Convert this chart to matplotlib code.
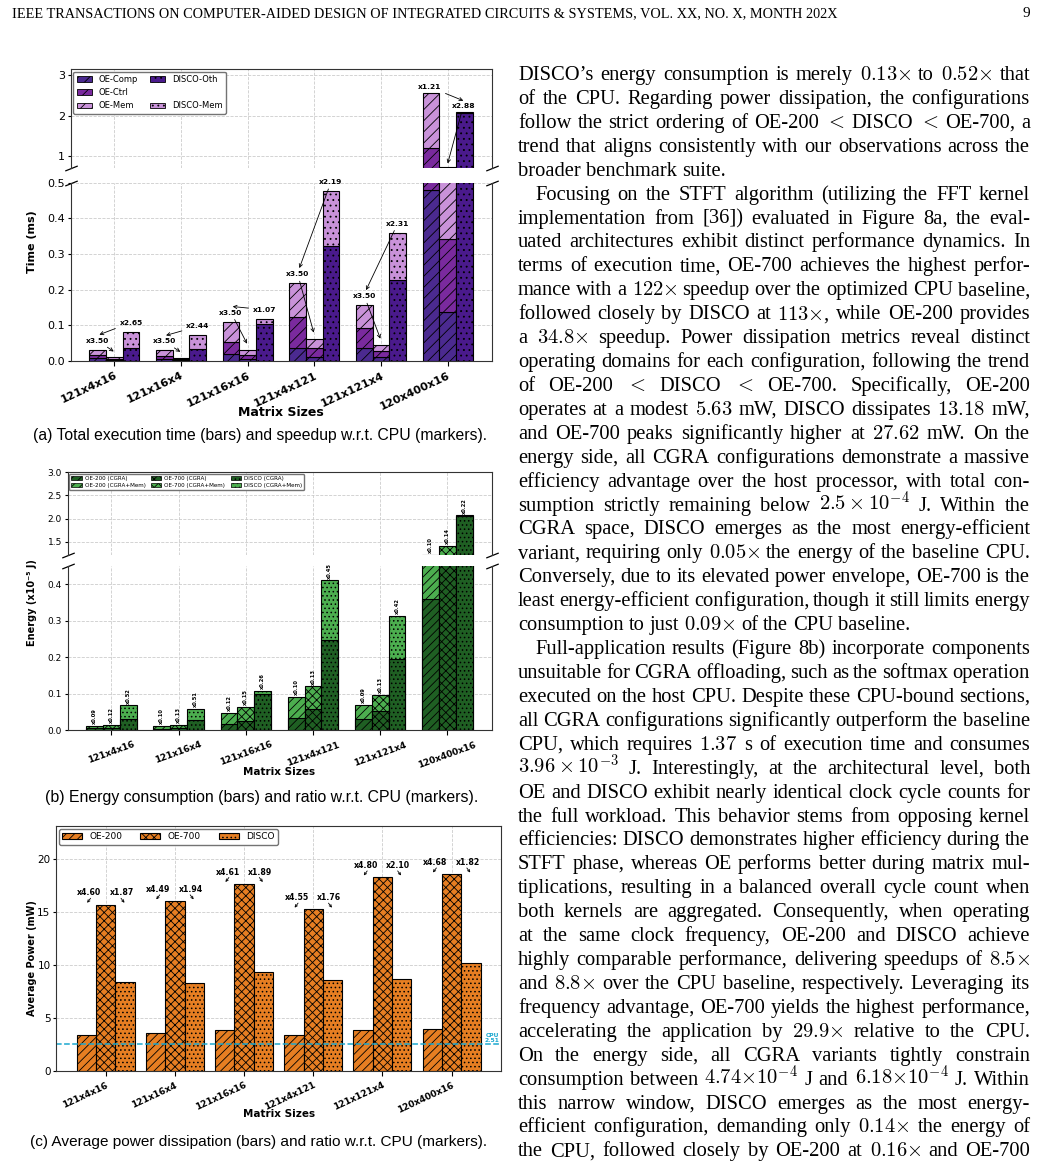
import matplotlib
matplotlib.use("Agg")
import matplotlib.pyplot as plt
import matplotlib.patches as mpatches
import numpy as np

W, H = 1043, 1161

sizes = ["121x4x16", "121x16x4", "121x16x16", "121x4x121", "121x121x4", "120x400x16"]

# (a) execution time (ms), stacked segments
oe200_comp = [0.007, 0.005, 0.019, 0.035, 0.035, 0.48]
oe200_ctrl = [0.008, 0.007, 0.033, 0.087, 0.056, 0.73]
oe200_mem = [0.016, 0.017, 0.058, 0.096, 0.065, 1.35]
oe700_comp = [0.002, 0.0015, 0.0055, 0.010, 0.010, 0.137]
oe700_ctrl = [0.002, 0.002, 0.0095, 0.025, 0.016, 0.206]
oe700_mem = [0.005, 0.0045, 0.016, 0.027, 0.019, 0.377]
disco_oth = [0.037, 0.033, 0.102, 0.323, 0.228, 2.07]
disco_mem = [0.045, 0.038, 0.016, 0.154, 0.132, 0.03]
spd_left = ["x3.50", "x3.50", "x3.50", "x3.50", "x3.50", "x1.21"]
spd_right = ["x2.65", "x2.44", "x1.07", "x2.19", "x2.31", "x2.88"]

# (b) energy (x1e-5 J)
e200_cgra = [0.005, 0.004, 0.016, 0.034, 0.030, 0.36]
e200_tot = [0.012, 0.012, 0.048, 0.092, 0.070, 1.23]
e700_cgra = [0.007, 0.007, 0.026, 0.057, 0.052, 0.70]
e700_tot = [0.015, 0.015, 0.064, 0.120, 0.097, 1.42]
edisco_cgra = [0.032, 0.028, 0.100, 0.247, 0.194, 2.05]
edisco_tot = [0.068, 0.059, 0.109, 0.411, 0.314, 2.07]
ratio200 = ["x0.09", "x0.10", "x0.12", "x0.10", "x0.09", "x0.10"]
ratio700 = ["x0.12", "x0.13", "x0.15", "x0.13", "x0.13", "x0.14"]
ratio_disco = ["x0.52", "x0.51", "x0.26", "x0.45", "x0.42", "x0.22"]

# (c) average power (mW)
p200 = [3.40, 3.56, 3.83, 3.345, 3.80, 3.96]
p700 = [15.68, 16.0, 17.64, 15.22, 18.26, 18.54]
pdisco = [8.33, 8.24, 9.28, 8.58, 8.65, 10.13]
cpu_power = 2.51
pr_left = ["x4.60", "x4.49", "x4.61", "x4.55", "x4.80", "x4.68"]
pr_right = ["x1.87", "x1.94", "x1.89", "x1.76", "x2.10", "x1.82"]

plt.rcParams["hatch.linewidth"] = 0.6
plt.rcParams["axes.edgecolor"] = "#333333"

fig = plt.figure(figsize=(W / 100, H / 100), dpi=100)
rend = fig.canvas.get_renderer()


def rect(l, t, r, b):
    return [l / W, 1 - b / H, (r - l) / W, (b - t) / H]


def px_dy(ax, px):
    y0, y1 = ax.get_ylim()
    return px * (y1 - y0) / ax.bbox.height


def break_marks(ax, where):
    y = 0 if where == "bottom" else 1
    ax.plot([0, 1], [y, y], transform=ax.transAxes, marker=[(-1, -0.4), (1, 0.4)],
            markersize=9, linestyle="none", color="k", mec="k", mew=0.9, clip_on=False)


def style(ax):
    ax.grid(True, linestyle="--", color="#cccccc", linewidth=0.6)
    ax.set_axisbelow(True)
    ax.tick_params(axis="y", length=2.5, pad=1.5)


x = np.arange(len(sizes))
arrow = dict(arrowstyle="->", lw=0.6, color="k", shrinkA=1, shrinkB=0, mutation_scale=6)

# ---------------- (a) time ----------------
c_comp, c_ctrl, c_mem, c_oth = "#4b2a90", "#7a2a9e", "#c992d9", "#4a1a8c"
bw = 0.25
a_top = fig.add_axes(rect(70.7, 69.3, 491.7, 168.3))
a_bot = fig.add_axes(rect(70.7, 182.7, 491.7, 360.7))
for ax in (a_top, a_bot):
    style(ax)
    bot = np.zeros(6)
    for seg, col in ((oe200_comp, c_comp), (oe200_ctrl, c_ctrl), (oe200_mem, c_mem)):
        ax.bar(x - bw, seg, bw, bottom=bot, color=col, hatch="///", edgecolor="k", lw=0.8)
        bot = bot + np.array(seg)
    bot = np.zeros(6)
    for seg, col in ((oe700_comp, c_comp), (oe700_ctrl, c_ctrl), (oe700_mem, c_mem)):
        ax.bar(x, seg, bw, bottom=bot, color=col, hatch="///", edgecolor="k", lw=0.8)
        bot = bot + np.array(seg)
    ax.bar(x + bw, disco_oth, bw, color=c_oth, hatch="...", edgecolor="k", lw=0.8)
    ax.bar(x + bw, disco_mem, bw, bottom=disco_oth, color=c_mem, hatch="...", edgecolor="k", lw=0.8)
    ax.set_xlim(-0.655, 5.66)
    ax.set_xticks(x)
a_top.set_ylim(0.7, 3.15)
a_top.set_yticks([1, 2, 3])
a_bot.set_ylim(0, 0.5)
a_bot.set_yticks([0, 0.1, 0.2, 0.3, 0.4, 0.5])
a_bot.set_yticklabels(["0.0", "0.1", "0.2", "0.3", "0.4", "0.5"])
a_top.spines["bottom"].set_visible(False)
a_bot.spines["top"].set_visible(False)
a_top.tick_params(bottom=False, labelbottom=False, labelsize=8)
a_bot.tick_params(labelsize=8)
a_bot.set_xticklabels(sizes, rotation=25, ha="right", rotation_mode="anchor",
                      fontsize=8, fontweight="bold")
break_marks(a_top, "bottom")
break_marks(a_bot, "top")
a_top.legend(handles=[
    mpatches.Patch(facecolor=c_comp, edgecolor="k", hatch="///", lw=0.6, label="OE-Comp"),
    mpatches.Patch(facecolor=c_ctrl, edgecolor="k", hatch="///", lw=0.6, label="OE-Ctrl"),
    mpatches.Patch(facecolor=c_mem, edgecolor="k", hatch="///", lw=0.6, label="OE-Mem"),
    mpatches.Patch(facecolor=c_oth, edgecolor="k", hatch="...", lw=0.6, label="DISCO-Oth"),
    mpatches.Patch(facecolor="none", edgecolor="none", label=" "),
    mpatches.Patch(facecolor=c_mem, edgecolor="k", hatch="...", lw=0.6, label="DISCO-Mem"),
], ncol=2, loc="upper left", fontsize=6, borderaxespad=0.3, edgecolor="0.45",
    framealpha=1, handlelength=1.8, columnspacing=1.5)

top200 = np.array(oe200_comp) + oe200_ctrl + oe200_mem
top700 = np.array(oe700_comp) + oe700_ctrl + oe700_mem
topd = np.array(disco_oth) + disco_mem
kw = dict(fontsize=5.4, fontweight="bold", ha="center", va="center", annotation_clip=False)
for i in range(6):
    ax = a_bot if i < 5 else a_top
    pad = 9 if i < 5 else 6
    ly = top200[i] + px_dy(ax, pad)
    ry = topd[i] + px_dy(ax, pad)
    lx = x[i] - 0.25 if i < 5 else x[i] - 0.265
    rx = x[i] + 0.25 if i < 5 else x[i] + 0.235
    if i < 5:
        ax.annotate(spd_left[i], xy=(x[i] - 0.01, top700[i] + px_dy(ax, 6)), xytext=(lx, ly),
                    arrowprops=arrow, **kw)
        ax.annotate(spd_right[i], xy=(lx + 0.025, ly + px_dy(ax, 6)), xytext=(rx, ry),
                    arrowprops=arrow, **kw)
    else:
        ax.annotate(spd_right[i], xy=(x[i], top700[i] + px_dy(ax, 4)), xytext=(rx, ry),
                    arrowprops=arrow, **kw)
        ax.annotate(spd_left[i], xy=(rx, ry + px_dy(ax, 5)), xytext=(lx, ly),
                    arrowprops=arrow, **kw)

fig.text(32 / W, 1 - 242 / H, "Time (ms)", rotation=90, ha="center", va="center",
         fontsize=8, fontweight="bold")
fig.text(281 / W, 1 - 413 / H, "Matrix Sizes", ha="center", va="center",
         fontsize=9, fontweight="bold")

# ---------------- (b) energy ----------------
g_dark, g_light = "#1f5f23", "#4cae4f"
b_top = fig.add_axes(rect(67.5, 472, 491.7, 555))
b_bot = fig.add_axes(rect(67.5, 566, 491.7, 730.3))
groups_b = ((-bw, e200_cgra, e200_tot, "////", ratio200),
            (0, e700_cgra, e700_tot, "xxxx", ratio700),
            (bw, edisco_cgra, edisco_tot, "....", ratio_disco))
for ax in (b_top, b_bot):
    style(ax)
    for off, cg, tot, h, _ in groups_b:
        ax.bar(x + off, tot, bw, color=g_light, hatch=h, edgecolor="k", lw=0.8)
        ax.bar(x + off, cg, bw, color=g_dark, hatch=h, edgecolor="k", lw=0.8)
    ax.set_xlim(-0.655, 5.66)
    ax.set_xticks(x)
b_top.set_ylim(1.22, 3.0)
b_top.set_yticks([1.5, 2.0, 2.5, 3.0])
b_bot.set_ylim(0, 0.45)
b_bot.set_yticks([0, 0.1, 0.2, 0.3, 0.4])
b_top.set_yticklabels(["1.5", "2.0", "2.5", "3.0"])
b_bot.set_yticklabels(["0.0", "0.1", "0.2", "0.3", "0.4"])
b_top.spines["bottom"].set_visible(False)
b_bot.spines["top"].set_visible(False)
b_top.tick_params(bottom=False, labelbottom=False, labelsize=6.5)
b_bot.tick_params(labelsize=6.5)
b_bot.set_xticklabels(sizes, rotation=20, ha="center", fontsize=6.5, fontweight="bold")
break_marks(b_top, "bottom")
break_marks(b_bot, "top")
for off, cg, tot, h, labs in groups_b:
    for i in range(6):
        ax = b_bot if tot[i] < 0.45 else b_top
        ax.text(x[i] + off, tot[i] + px_dy(ax, 1.5), labs[i], rotation=90, ha="center",
                va="bottom", fontsize=3.7, fontweight="bold", clip_on=False)
b_top.legend(handles=[
    mpatches.Patch(facecolor=g_dark, edgecolor="k", hatch="////", lw=0.5, label="OE-200 (CGRA)"),
    mpatches.Patch(facecolor=g_light, edgecolor="k", hatch="////", lw=0.5, label="OE-200 (CGRA+Mem)"),
    mpatches.Patch(facecolor=g_dark, edgecolor="k", hatch="xxxx", lw=0.5, label="OE-700 (CGRA)"),
    mpatches.Patch(facecolor=g_light, edgecolor="k", hatch="xxxx", lw=0.5, label="OE-700 (CGRA+Mem)"),
    mpatches.Patch(facecolor=g_dark, edgecolor="k", hatch="....", lw=0.5, label="DISCO (CGRA)"),
    mpatches.Patch(facecolor=g_light, edgecolor="k", hatch="....", lw=0.5, label="DISCO (CGRA+Mem)"),
], ncol=3, loc="upper left", fontsize=4.1, borderaxespad=0.3, edgecolor="0.45",
    framealpha=1, handlelength=1.8, columnspacing=1.0, handletextpad=0.5, labelspacing=0.3)
fig.text(32 / W, 1 - 603 / H, "Energy (x10⁻⁵ J)", rotation=90, ha="center", va="center",
         fontsize=7, fontweight="bold")
fig.text(279 / W, 1 - 772 / H, "Matrix Sizes", ha="center", va="center",
         fontsize=7.5, fontweight="bold")

# ---------------- (c) power ----------------
orange = "#e67e22"
bwc = 0.28
c_ax = fig.add_axes(rect(56, 826, 500.7, 1070.7))
style(c_ax)
c_ax.bar(x - bwc, p200, bwc, color=orange, hatch="////", edgecolor="k", lw=0.8, label="OE-200")
c_ax.bar(x, p700, bwc, color=orange, hatch="xxxx", edgecolor="k", lw=0.8, label="OE-700")
c_ax.bar(x + bwc, pdisco, bwc, color=orange, hatch="....", edgecolor="k", lw=0.8, label="DISCO")
c_ax.axhline(cpu_power, color="#1ba8cf", linestyle="--", lw=1.1)
c_ax.text(5.69, cpu_power + 0.1, "CPU\n%.2f" % cpu_power, color="#1ba8cf", fontsize=4.3,
          fontweight="bold", ha="right", va="bottom", linespacing=1.1)
c_ax.set_xlim(-0.72, 5.71)
c_ax.set_ylim(0, 23.1)
c_ax.set_yticks([0, 5, 10, 15, 20])
c_ax.set_xticks(x)
c_ax.set_xticklabels(sizes, rotation=25, ha="right", rotation_mode="anchor",
                     fontsize=6.5, fontweight="bold")
c_ax.tick_params(axis="y", labelsize=7.5)
c_ax.legend(ncol=3, loc="upper left", fontsize=6.5, borderaxespad=0.3, edgecolor="0.45",
            framealpha=1, handlelength=2.2, columnspacing=2.0)
small = dict(arrowstyle="->", lw=0.6, color="k", shrinkA=0, shrinkB=0, mutation_scale=4)
for i in range(6):
    t = p700[i]
    c_ax.text(x[i] - 0.24, t + 1.1, pr_left[i], ha="center", va="center", fontsize=5.6,
              fontweight="bold")
    c_ax.text(x[i] + 0.23, t + 1.1, pr_right[i], ha="center", va="center", fontsize=5.6,
              fontweight="bold")
    c_ax.annotate("", xy=(x[i] - 0.27, t + 0.17), xytext=(x[i] - 0.22, t + 0.6), arrowprops=small)
    c_ax.annotate("", xy=(x[i] + 0.27, t + 0.17), xytext=(x[i] + 0.22, t + 0.6), arrowprops=small)
fig.text(32 / W, 1 - 958 / H, "Average Power (mW)", rotation=90, ha="center", va="center",
         fontsize=7, fontweight="bold")
fig.text(279 / W, 1 - 1114 / H, "Matrix Sizes", ha="center", va="center",
         fontsize=7.5, fontweight="bold")


# ---------------- page text ----------------
def fit_text(x0, x1, y, s, **kw):
    t = fig.text(x0 / W, 1 - y / H, s, fontsize=10, va="baseline", **kw)
    w = t.get_window_extent(rend).width
    t.set_fontsize(10 * (x1 - x0) / w)
    return t


fit_text(12, 832, 17, "IEEE TRANSACTIONS ON COMPUTER-AIDED DESIGN OF INTEGRATED CIRCUITS & SYSTEMS, "
         "VOL. XX, NO. X, MONTH 202X", family="Liberation Serif")
fig.text(1030 / W, 1 - 17 / H, "9", ha="right", va="baseline", fontsize=11,
         family="Liberation Serif")

cap_a = "(a) Total execution time (bars) and speedup w.r.t. CPU (markers)."
cap_b = "(b) Energy consumption (bars) and ratio w.r.t. CPU (markers)."
cap_c = "(c) Average power dissipation (bars) and ratio w.r.t. CPU (markers)."
fit_text(33, 490, 440, cap_a, family="Liberation Sans")
fit_text(45, 478, 802, cap_b, family="Liberation Sans")
fit_text(30, 487, 1146, cap_c, family="Liberation Sans")

X = "{\\times}"
LT = "${<}$"
body = [
    ("DISCO’s energy consumption is merely $0.13" + X + "$ to $0.52" + X + "$ that", "j"),
    ("of the CPU. Regarding power dissipation, the configurations", "j"),
    ("follow the strict ordering of OE-200 " + LT + " DISCO " + LT + " OE-700, a", "j"),
    ("trend that aligns consistently with our observations across the", "j"),
    ("broader benchmark suite.", "e"),
    ("Focusing on the STFT algorithm (utilizing the FFT kernel", "i"),
    ("implementation from [36]) evaluated in Figure 8a, the eval-", "j"),
    ("uated architectures exhibit distinct performance dynamics. In", "j"),
    ("terms of execution time, OE-700 achieves the highest perfor-", "j"),
    ("mance with a $122" + X + "$ speedup over the optimized CPU baseline,", "j"),
    ("followed closely by DISCO at $113" + X + "$, while OE-200 provides", "j"),
    ("a $34.8" + X + "$ speedup. Power dissipation metrics reveal distinct", "j"),
    ("operating domains for each configuration, following the trend", "j"),
    ("of OE-200 " + LT + " DISCO " + LT + " OE-700. Specifically, OE-200", "j"),
    ("operates at a modest $5.63$ mW, DISCO dissipates $13.18$ mW,", "j"),
    ("and OE-700 peaks significantly higher at $27.62$ mW. On the", "j"),
    ("energy side, all CGRA configurations demonstrate a massive", "j"),
    ("efficiency advantage over the host processor, with total con-", "j"),
    ("sumption strictly remaining below $2.5\\times10^{-4}$ J. Within the", "j"),
    ("CGRA space, DISCO emerges as the most energy-efficient", "j"),
    ("variant, requiring only $0.05" + X + "$ the energy of the baseline CPU.", "j"),
    ("Conversely, due to its elevated power envelope, OE-700 is the", "j"),
    ("least energy-efficient configuration, though it still limits energy", "j"),
    ("consumption to just $0.09" + X + "$ of the CPU baseline.", "e"),
    ("Full-application results (Figure 8b) incorporate components", "i"),
    ("unsuitable for CGRA offloading, such as the softmax operation", "j"),
    ("executed on the host CPU. Despite these CPU-bound sections,", "j"),
    ("all CGRA configurations significantly outperform the baseline", "j"),
    ("CPU, which requires $1.37$ s of execution time and consumes", "j"),
    ("$3.96\\times10^{-3}$ J. Interestingly, at the architectural level, both", "j"),
    ("OE and DISCO exhibit nearly identical clock cycle counts for", "j"),
    ("the full workload. This behavior stems from opposing kernel", "j"),
    ("efficiencies: DISCO demonstrates higher efficiency during the", "j"),
    ("STFT phase, whereas OE performs better during matrix mul-", "j"),
    ("tiplications, resulting in a balanced overall cycle count when", "j"),
    ("both kernels are aggregated. Consequently, when operating", "j"),
    ("at the same clock frequency, OE-200 and DISCO achieve", "j"),
    ("highly comparable performance, delivering speedups of $8.5" + X + "$", "j"),
    ("and $8.8" + X + "$ over the CPU baseline, respectively. Leveraging its", "j"),
    ("frequency advantage, OE-700 yields the highest performance,", "j"),
    ("accelerating the application by $29.9" + X + "$ relative to the CPU.", "j"),
    ("On the energy side, all CGRA variants tightly constrain", "j"),
    ("consumption between $4.74" + X + "10^{-4}$ J and $6.18" + X + "10^{-4}$ J. Within", "j"),
    ("this narrow window, DISCO emerges as the most energy-", "j"),
    ("efficient configuration, demanding only $0.14" + X + "$ the energy of", "j"),
    ("the CPU, followed closely by OE-200 at $0.16" + X + "$ and OE-700", "j"),
]

fs_body = 14.8
col_l, col_r, indent = 518, 1030, 17
min_gap = 3.2
for k, (line, mode) in enumerate(body):
    yb = 80 + 23.92 * k
    words = line.split(" ")
    objs = [fig.text(0, 0, w, fontsize=fs_body, family="Liberation Serif",
                     math_fontfamily="cm", va="baseline", ha="left") for w in words]
    ws = [o.get_window_extent(rend).width for o in objs]
    x0 = col_l + (indent if mode == "i" else 0)
    if mode == "e":
        gap = fs_body * 100 / 72 * 0.25
    else:
        gap = (col_r - x0 - sum(ws)) / (len(words) - 1)
        if gap < min_gap:
            # line too long at this size: shrink it slightly
            room = col_r - x0 - min_gap * (len(words) - 1)
            f = room / sum(ws)
            for o in objs:
                o.set_fontsize(fs_body * f)
            ws = [w * f for w in ws]
            gap = min_gap
    xp = x0
    for o, w in zip(objs, ws):
        o.set_position((xp / W, 1 - yb / H))
        xp += w + gap

fig.savefig("out.png", dpi=100)
